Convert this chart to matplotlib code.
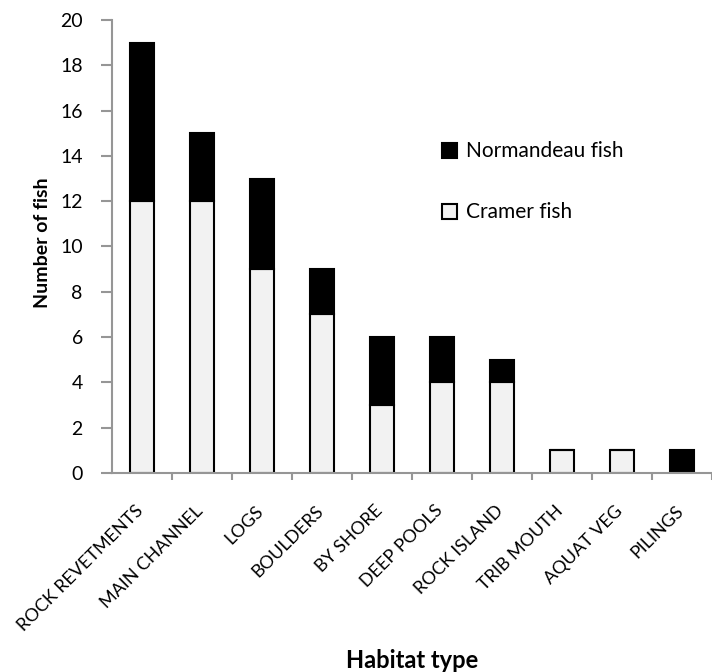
import matplotlib.pyplot as plt
import numpy as np

plt.rcParams['font.family'] = ['Lato', 'DejaVu Sans']

# habitat categories and counts per survey
habitats = ['ROCK REVETMENTS', 'MAIN CHANNEL', 'LOGS', 'BOULDERS', 'BY SHORE',
            'DEEP POOLS', 'ROCK ISLAND', 'TRIB MOUTH', 'AQUAT VEG', 'PILINGS']
cramer = [12, 12, 9, 7, 3, 4, 4, 1, 1, 0]
normandeau = [7, 3, 4, 2, 3, 2, 1, 0, 0, 1]
yticks = [0, 2, 4, 6, 8, 10, 12, 14, 16, 18, 20]

fig = plt.figure(figsize=(7.12, 6.72), dpi=100)
ax = fig.add_axes([112 / 712, 199 / 672, 600 / 712, 453 / 672])

x = np.arange(len(habitats))
w = 0.41
b1 = ax.bar(x, cramer, w, color='#f2f2f2', edgecolor='black', linewidth=1.5,
            label='Cramer fish')
b2 = ax.bar(x, normandeau, w, bottom=cramer, color='black', edgecolor='black',
            linewidth=1.5, label='Normandeau fish')

ax.set_xlim(-0.5, 9.42)
ax.set_ylim(0, 20)
ax.set_yticks(yticks)
ax.tick_params(axis='y', labelsize=14, length=8, color='#969696', width=1.5, pad=13)
ax.set_xticks(x + 0.5)
ax.set_xticklabels([])
ax.tick_params(axis='x', length=5, color='#969696', width=1.5)
for xi, lab in zip(x, habitats):
    ax.text(xi - 0.12, -1.3, lab, rotation=45, ha='right', va='top',
            fontsize=13, rotation_mode='anchor')

for s in ['top', 'right']:
    ax.spines[s].set_visible(False)
for s in ['left', 'bottom']:
    ax.spines[s].set_color('#969696')
    ax.spines[s].set_linewidth(1.5)

fig.text(43 / 712, 1 - 243 / 672, 'Number of fish', rotation=90, ha='center',
         va='center', fontsize=14, fontweight='bold')
fig.text(412 / 712, 1 - 660 / 672, 'Habitat type', ha='center', va='center',
         fontsize=17, fontweight='bold')

ax.legend([b2, b1], ['Normandeau fish', 'Cramer fish'], frameon=False,
          loc='upper left', bbox_to_anchor=(0.533, 0.755), fontsize=15,
          labelspacing=1.97, handlelength=0.72, handleheight=0.72,
          handletextpad=0.4, borderpad=0)

fig.savefig('out.png', dpi=100)
